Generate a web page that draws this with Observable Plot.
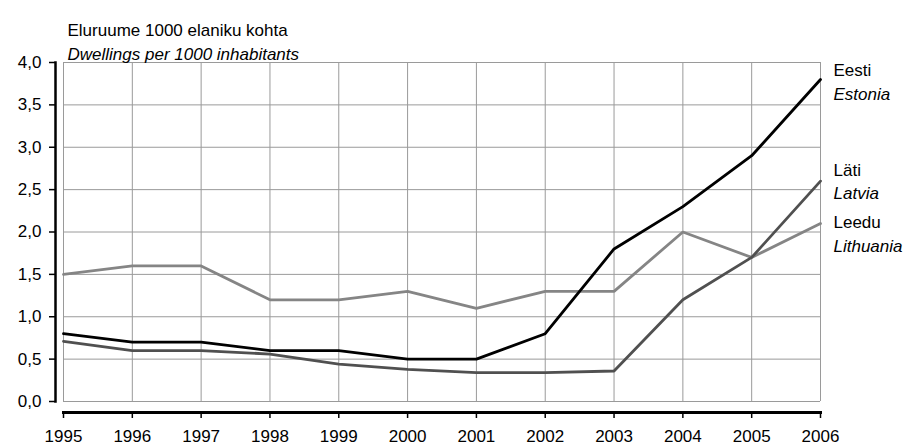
<!DOCTYPE html>
<html>
<head>
<meta charset="utf-8">
<script src="https://cdn.jsdelivr.net/npm/d3@7"></script>
<script src="https://cdn.jsdelivr.net/npm/@observablehq/plot@0.6"></script>
<style>
  body { margin: 0; background: #fff; }
  svg { font-family: Arial, "Liberation Sans", sans-serif; }
</style>
</head>
<body>
<div id="chart"></div>
<script>
const years = [1995, 1996, 1997, 1998, 1999, 2000, 2001, 2002, 2003, 2004, 2005, 2006];
const estonia = [0.8, 0.7, 0.7, 0.6, 0.6, 0.5, 0.5, 0.8, 1.8, 2.3, 2.9, 3.8];
const latvia = [0.71, 0.6, 0.6, 0.56, 0.44, 0.38, 0.34, 0.34, 0.36, 1.2, 1.7, 2.6];
const lithuania = [1.5, 1.6, 1.6, 1.2, 1.2, 1.3, 1.1, 1.3, 1.3, 2.0, 1.7, 2.1];
const yTicks = [0, 0.5, 1, 1.5, 2, 2.5, 3, 3.5, 4];
const titleEt = "Eluruume 1000 elaniku kohta";
const titleEn = "Dwellings per 1000 inhabitants";

const seriesList = [
  {key: "Eesti", en: "Estonia", values: estonia, color: "#000000"},
  {key: "Läti", en: "Latvia", values: latvia, color: "#505050"},
  {key: "Leedu", en: "Lithuania", values: lithuania, color: "#858585"}
];
const rows = seriesList.flatMap(s => years.map((yr, i) => ({series: s.key, year: yr, value: s.values[i], color: s.color})));
const last = s => rows.filter(r => r.series === s && r.year === years[years.length - 1]);

const fmt = d => d.toFixed(1).replace(".", ",");
const fs = 17;

const drawOrder = ["Leedu", "Läti", "Eesti"];

const chart = Plot.plot({
  width: 908,
  height: 445,
  marginLeft: 63,
  marginRight: 88,
  marginTop: 62,
  marginBottom: 44,
  x: {type: "linear", domain: [1995, 2006]},
  y: {domain: [0, 4]},
  style: {fontSize: fs + "px", fontFamily: "Arial, 'Liberation Sans', sans-serif", color: "#000"},
  marks: [
    Plot.gridX(years, {stroke: "#9a9a9a", strokeOpacity: 1, strokeWidth: 1}),
    Plot.gridY(yTicks, {stroke: "#9a9a9a", strokeOpacity: 1, strokeWidth: 1}),
    // y axis
    Plot.frame({anchor: "left", dx: -8, stroke: "#000", strokeWidth: 2.5}),
    Plot.axisY(yTicks, {dx: -8, tickSize: 6, tickPadding: 8, tickFormat: fmt, fontSize: fs, label: null, stroke: "#000", strokeWidth: 1.5}),
    // x axis
    Plot.frame({anchor: "bottom", dy: 11, stroke: "#000", strokeWidth: 3}),
    Plot.axisX(years, {dy: 11, tickSize: 6, tickPadding: 11, tickFormat: d => String(d), fontSize: fs, label: null, stroke: "#000", strokeWidth: 1.5}),
    // lines
    ...drawOrder.map(k => Plot.line(rows.filter(r => r.series === k), {x: "year", y: "value", stroke: "color", strokeWidth: 2.8, strokeLinejoin: "miter"})),
    // right labels
    Plot.text(last("Eesti"), {x: "year", y: "value", text: d => "Eesti", textAnchor: "start", dx: 13, dy: -9, fontSize: fs}),
    Plot.text(last("Eesti"), {x: "year", y: "value", text: d => "Estonia", textAnchor: "start", dx: 13, dy: 15, fontSize: fs, fontStyle: "italic"}),
    Plot.text(last("Läti"), {x: "year", y: "value", text: d => "Läti", textAnchor: "start", dx: 13, dy: -11, fontSize: fs}),
    Plot.text(last("Läti"), {x: "year", y: "value", text: d => "Latvia", textAnchor: "start", dx: 13, dy: 12, fontSize: fs, fontStyle: "italic"}),
    Plot.text(last("Leedu"), {x: "year", y: "value", text: d => "Leedu", textAnchor: "start", dx: 13, dy: -1, fontSize: fs}),
    Plot.text(last("Leedu"), {x: "year", y: "value", text: d => "Lithuania", textAnchor: "start", dx: 13, dy: 23, fontSize: fs, fontStyle: "italic"}),
    // titles
    Plot.text([titleEt], {frameAnchor: "top-left", text: d => d, textAnchor: "start", dx: 4, dy: -39, fontSize: fs}),
    Plot.text([titleEn], {frameAnchor: "top-left", text: d => d, textAnchor: "start", dx: 4, dy: -15, fontSize: fs, fontStyle: "italic"})
  ]
});
document.getElementById("chart").appendChild(chart);
</script>
</body>
</html>
